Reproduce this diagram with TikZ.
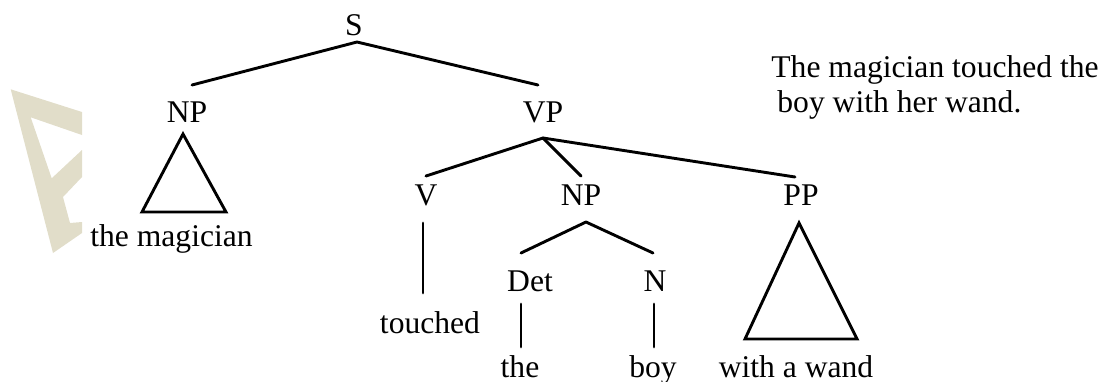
\documentclass[tikz,border=0pt]{standalone}
\usepackage{fontspec}
\setmainfont{Liberation Serif}
\begin{document}
\begin{tikzpicture}[x=0.5pt,y=-0.5pt,
  lbl/.style={inner sep=0pt,anchor=base,font=\fontsize{15.8pt}{19pt}\selectfont},
  lbll/.style={lbl,anchor=base west},
  edge/.style={line width=1.45pt,line cap=round,line join=round},
  tri/.style={edge,line join=miter}]
\definecolor{wm}{RGB}{225,221,201}
\useasboundingbox (0,0) rectangle (1106,381);
% watermark fragment
\fill[wm] (10.7,89.3) -- (82,112) -- (82,135) -- (30.7,117.3) -- (51.7,178.3) -- (82,150) -- (82,177) -- (63,197) -- (70,223) -- (82,222) -- (82,233) -- (53,253) -- cycle;
% labels
\node[lbl] (S) at (354,35) {S};
\node[lbl] (NP1) at (187,122) {NP};
\node[lbl] (VP) at (543,122) {VP};
\node[lbl] (mag) at (171.5,246) {the magician};
\node[lbl] (V) at (426,205) {V};
\node[lbl] (NP2) at (581,205) {NP};
\node[lbl] (PP) at (801,205) {PP};
\node[lbl] (touched) at (430,333) {touched};
\node[lbl] (Det) at (530,291) {Det};
\node[lbl] (N) at (655,291) {N};
\node[lbl] (the) at (520,377) {the};
\node[lbl] (boy) at (653,377) {boy};
\node[lbl] (wand) at (796,377) {with a wand};
\node[lbll] (sent1) at (771,77) {The magician touched the};
\node[lbll] (sent2) at (777,112) {boy with her wand.};
% connector end points
\coordinate (Sb) at (357,42);
\coordinate (NP1t) at (192,85);
\coordinate (VPt) at (538,85);
\coordinate (VPb) at (543,138);
\coordinate (Vt) at (426,176);
\coordinate (NP2t) at (581,176);
\coordinate (PPt) at (795,177);
\coordinate (Vb) at (423,223);
\coordinate (touchedt) at (423,293);
\coordinate (NP2b) at (586,222);
\coordinate (Dett) at (521,253);
\coordinate (Nt) at (653,253);
\coordinate (Detb) at (521,304);
\coordinate (thet) at (521,347);
\coordinate (Nb) at (654,304);
\coordinate (boyt) at (654,347);
% edges
\draw[edge] (NP1t) -- (Sb) -- (VPt);
\draw[edge] (Vt) -- (VPb) -- (NP2t);
\draw[edge] (VPb) -- (PPt);
\draw[edge] (Vb) -- (touchedt);
\draw[edge] (Dett) -- (NP2b) -- (Nt);
\draw[edge] (Detb) -- (thet);
\draw[edge] (Nb) -- (boyt);
% triangles
\draw[tri] (183,134) -- (142,212) -- (226,212) -- cycle;
\draw[tri] (799,223) -- (745,339) -- (857,339) -- cycle;
\end{tikzpicture}
\end{document}
